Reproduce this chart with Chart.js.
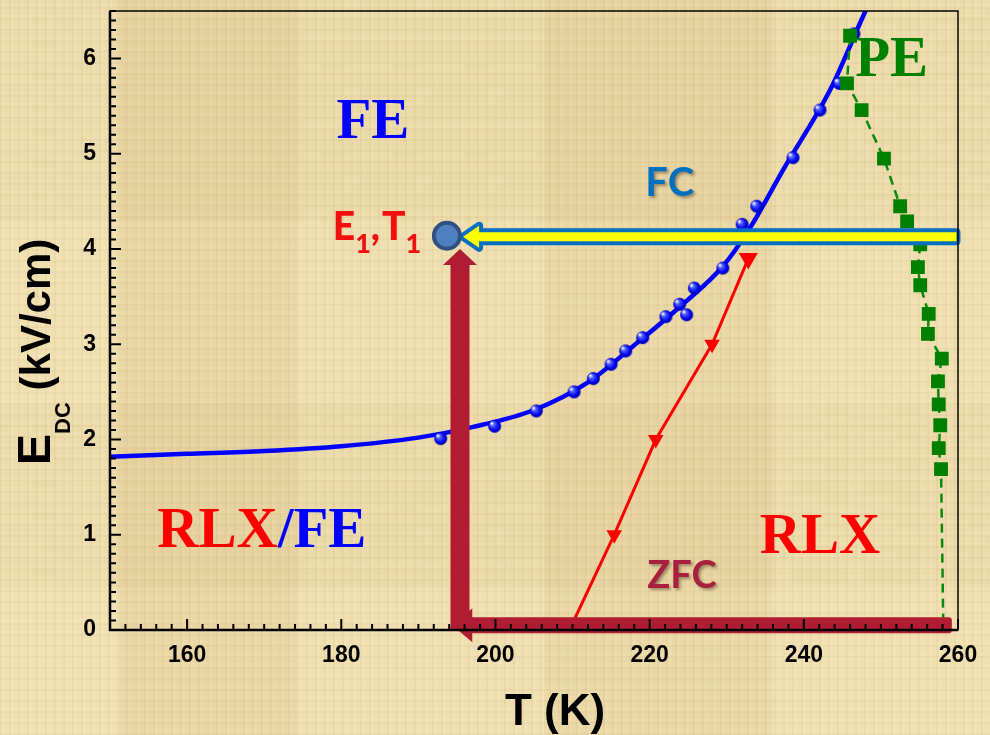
<!DOCTYPE html>
<html>
<head>
<meta charset="utf-8">
<script src="https://cdn.jsdelivr.net/npm/chart.js@4.4.1/dist/chart.umd.min.js"></script>
<style>
  html, body { margin: 0; padding: 0; }
  #wrap {
    width: 990px; height: 735px; position: relative;
    background-color: #ead7a6;
    background-image:
      repeating-linear-gradient(90deg, rgba(160,120,60,0.06) 0 2px, rgba(255,248,215,0.07) 2px 5px, transparent 5px 9px),
      repeating-linear-gradient(0deg, rgba(160,120,60,0.05) 0 2px, rgba(255,248,215,0.06) 2px 6px, transparent 6px 11px),
      linear-gradient(90deg, rgba(255,245,205,0.2) 0 12%, rgba(205,170,100,0.07) 12% 30%, rgba(255,245,205,0.15) 30% 55%, rgba(205,170,100,0.06) 55% 78%, rgba(255,245,205,0.18) 78% 100%),
      linear-gradient(0deg, rgba(255,245,205,0.12) 0 20%, rgba(205,170,100,0.06) 20% 45%, rgba(255,245,205,0.1) 45% 70%, rgba(205,170,100,0.06) 70% 100%);
  }
</style>
</head>
<body>
<div id="wrap"><canvas id="phaseChart" width="990" height="735"></canvas></div>
<script>
// measured FC points (blue spheres)
const fcT = [192.9, 199.9, 205.3, 210.2, 212.7, 215.0, 216.9, 219.1, 222.1, 223.9, 224.8, 225.8, 229.5, 232.0, 233.9, 238.6, 242.1, 244.6, 246.5];
const fcE = [2.01, 2.14, 2.30, 2.50, 2.64, 2.79, 2.93, 3.07, 3.29, 3.42, 3.31, 3.59, 3.80, 4.26, 4.45, 4.96, 5.46, 5.74, 6.26];

// fitted FC curve (blue line)
const fitT = [150, 160, 170, 180, 190, 197, 205, 212, 218, 224, 229.5, 233, 237.3, 243.4, 248, 249.5];
const fitE = [1.82, 1.85, 1.88, 1.93, 2.02, 2.13, 2.31, 2.60, 2.99, 3.40, 3.82, 4.22, 4.83, 5.67, 6.5, 6.75];

// ZFC line (red, down triangles)
const zfcT = [209.6, 215.4, 220.8, 228.1, 232.8];
const zfcE = [0, 1.0, 2.0, 3.0, 3.9];

// PE boundary (green dashed squares)
const peT = [246.0, 245.6, 247.5, 250.4, 252.5, 253.4, 255.1, 254.8, 255.1, 256.2, 256.1, 257.9, 257.4, 257.5, 257.7, 257.5, 257.8, 258.1];
const peE = [6.24, 5.74, 5.46, 4.95, 4.45, 4.29, 4.05, 3.81, 3.62, 3.32, 3.11, 2.85, 2.61, 2.37, 2.15, 1.91, 1.69, 0];

const xTicks = [160, 180, 200, 220, 240, 260];
const yTicks = [0, 1, 2, 3, 4, 5, 6];

// arrows / marker of the E1,T1 state
const e1t1 = [193.7, 4.14];
const fcArrow = [[259.8, 4.13], [195.8, 4.13]];
const zfcUpArrow = [[195.4, 0], [195.4, 4.0]];
const zfcLeftArrow = [[259.2, 0.05], [194.4, 0.05]];

const toXY = (t, e) => t.map((v, i) => ({x: v, y: e[i]}));

// glossy blue sphere for the points
function sphere(r) {
    const c = document.createElement('canvas');
    c.width = c.height = r * 2 + 2;
    const g = c.getContext('2d');
    const grad = g.createRadialGradient(r - r * 0.35, r - r * 0.35, 0.5, r + 1, r + 1, r);
    grad.addColorStop(0, '#ffffff');
    grad.addColorStop(0.3, '#4a5cff');
    grad.addColorStop(0.75, '#0000ee');
    grad.addColorStop(1, '#0000a0');
    g.fillStyle = grad;
    g.beginPath();
    g.arc(r + 1, r + 1, r, 0, Math.PI * 2);
    g.fill();
    return c;
}
const blueBall = sphere(6.5);

const decorPlugin = {
    id: 'decor',
    afterDatasetsDraw(chart) {
        const ctx = chart.ctx;
        const xs = chart.scales.x, ys = chart.scales.y;
        const px = v => xs.getPixelForValue(v);
        const py = v => ys.getPixelForValue(v);

        ctx.save();
        // ZFC arrows (dark red)
        ctx.fillStyle = '#b01c34';
        let ux = px(zfcUpArrow[0][0]), uy0 = py(zfcUpArrow[0][1]), uy1 = py(zfcUpArrow[1][1]);
        ctx.beginPath();
        ctx.moveTo(ux - 9.5, uy0);
        ctx.lineTo(ux - 9.5, uy1 + 16);
        ctx.lineTo(ux - 17, uy1 + 16);
        ctx.lineTo(ux, uy1);
        ctx.lineTo(ux + 17, uy1 + 16);
        ctx.lineTo(ux + 9.5, uy1 + 16);
        ctx.lineTo(ux + 9.5, uy0);
        ctx.closePath();
        ctx.fill();

        let ly = py(zfcLeftArrow[0][1]), lx0 = px(zfcLeftArrow[0][0]), lx1 = px(zfcLeftArrow[1][0]);
        ctx.beginPath();
        ctx.moveTo(lx0 - 3, ly - 8);
        ctx.quadraticCurveTo(lx0, ly - 8, lx0, ly - 5);
        ctx.lineTo(lx0, ly + 5);
        ctx.quadraticCurveTo(lx0, ly + 8, lx0 - 3, ly + 8);
        ctx.lineTo(lx1 + 20, ly + 8);
        ctx.lineTo(lx1 + 20, ly + 17);
        ctx.lineTo(lx1, ly);
        ctx.lineTo(lx1 + 20, ly - 17);
        ctx.lineTo(lx1 + 20, ly - 8);
        ctx.closePath();
        ctx.fill();

        // FC arrow (yellow with blue border)
        let fy = py(fcArrow[0][1]), fx0 = px(fcArrow[0][0]), fx1 = px(fcArrow[1][0]);
        ctx.beginPath();
        ctx.moveTo(fx0, fy - 4.5);
        ctx.lineTo(fx1 + 16, fy - 4.5);
        ctx.lineTo(fx1 + 16, fy - 11);
        ctx.lineTo(fx1, fy);
        ctx.lineTo(fx1 + 16, fy + 11);
        ctx.lineTo(fx1 + 16, fy + 4.5);
        ctx.lineTo(fx0, fy + 4.5);
        ctx.closePath();
        ctx.lineJoin = 'round';
        ctx.lineWidth = 8;
        ctx.strokeStyle = '#0a6fc0';
        ctx.stroke();
        ctx.fillStyle = '#ffff00';
        ctx.fill();

        // E1,T1 circle
        ctx.beginPath();
        ctx.arc(px(e1t1[0]), py(e1t1[1]), 13, 0, Math.PI * 2);
        ctx.fillStyle = '#4f7fbf';
        ctx.fill();
        ctx.lineWidth = 4;
        ctx.strokeStyle = '#2f5283';
        ctx.stroke();
        ctx.restore();

        // region labels
        ctx.save();
        ctx.textBaseline = 'alphabetic';
        ctx.textAlign = 'center';
        ctx.font = 'bold 57px "Liberation Serif", "Times New Roman", serif';
        ctx.fillStyle = '#0000ff';
        ctx.fillText('FE', px(184.1), py(5.17));
        ctx.fillStyle = '#008000';
        ctx.fillText('PE', px(251.4), py(5.82));
        ctx.fillStyle = '#ff0000';
        ctx.fillText('RLX', px(242.1), py(0.81));
        // RLX/FE in two colours
        const w1 = ctx.measureText('RLX').width, w2 = ctx.measureText('/FE').width;
        let sx = px(169.7) - (w1 + w2) / 2;
        ctx.textAlign = 'left';
        ctx.fillStyle = '#ff0000';
        ctx.fillText('RLX', sx, py(0.87));
        ctx.fillStyle = '#0000ff';
        ctx.fillText('/FE', sx + w1, py(0.87));

        // FC and ZFC with shadow
        ctx.textAlign = 'center';
        ctx.font = 'bold 40px Lato, "Open Sans", sans-serif';
        ctx.shadowColor = 'rgba(60,40,20,0.45)';
        ctx.shadowOffsetX = 2;
        ctx.shadowOffsetY = 2;
        ctx.shadowBlur = 3;
        ctx.fillStyle = '#0070c0';
        ctx.fillText('FC', px(222.6), py(4.56));
        ctx.font = 'bold 38px Lato, "Open Sans", sans-serif';
        ctx.fillStyle = '#a8203e';
        ctx.fillText('ZFC', px(224.2), py(0.44));
        ctx.shadowColor = 'transparent';

        // E1,T1 with subscripts
        ctx.textAlign = 'left';
        ctx.fillStyle = '#f01010';
        let ex = px(178.9), ey = py(4.10);
        const parts = [['E', 39, 0], ['1', 27, 13], [',', 39, 0], ['T', 39, 0], ['1', 27, 13]];
        parts.forEach(p => {
            ctx.font = '900 ' + p[1] + 'px Lato, "Open Sans", sans-serif';
            ctx.fillText(p[0], ex, ey + p[2]);
            ex += ctx.measureText(p[0]).width + (p[0] === ',' ? 2 : 0);
        });
        ctx.restore();
    },
    afterDraw(chart) {
        const ctx = chart.ctx;
        const xs = chart.scales.x, ys = chart.scales.y;
        const a = chart.chartArea;
        ctx.save();
        // frame
        ctx.strokeStyle = '#000';
        ctx.lineWidth = 1.5;
        ctx.strokeRect(a.left, a.top, a.right - a.left, a.bottom - a.top);
        ctx.lineWidth = 2.5;
        ctx.beginPath();
        ctx.moveTo(a.left, a.top);
        ctx.lineTo(a.left, a.bottom);
        ctx.lineTo(a.right, a.bottom);
        ctx.stroke();
        // inward ticks
        ctx.lineWidth = 2;
        ctx.beginPath();
        for (let t = 150; t <= 260.001; t += 2) {
            const x = xs.getPixelForValue(t);
            const len = xTicks.includes(Math.round(t)) ? 11 : 6;
            ctx.moveTo(x, a.bottom);
            ctx.lineTo(x, a.bottom - len);
        }
        for (let k = 0; k <= 65; k++) {
            const e = k / 10;
            const y = ys.getPixelForValue(e);
            const len = k % 10 === 0 ? 11 : 6;
            ctx.moveTo(a.left, y);
            ctx.lineTo(a.left + len, y);
        }
        ctx.stroke();

        // axis titles
        ctx.fillStyle = '#000';
        ctx.textBaseline = 'alphabetic';
        ctx.textAlign = 'center';
        ctx.font = 'bold 44px "Liberation Sans", Arial, sans-serif';
        ctx.fillText('T (K)', a.left + 445, 725);

        ctx.translate(50, 352);
        ctx.rotate(-Math.PI / 2);
        ctx.textAlign = 'left';
        const segs = [['E', 47, 0], ['DC', 22, 20], [' (kV/cm)', 42, 0]];
        let total = 0;
        segs.forEach(s => {
            ctx.font = 'bold ' + s[1] + 'px "Liberation Sans", Arial, sans-serif';
            total += ctx.measureText(s[0]).width;
        });
        let cx = -total / 2;
        segs.forEach(s => {
            ctx.font = 'bold ' + s[1] + 'px "Liberation Sans", Arial, sans-serif';
            ctx.fillText(s[0], cx, s[2]);
            cx += ctx.measureText(s[0]).width;
        });
        ctx.restore();
    }
};

const tickFont = {family: '"Liberation Sans", Arial, sans-serif', size: 23, weight: 'bold'};

const config = {
    type: 'scatter',
    data: {
        datasets: [
            {
                label: 'fit',
                data: toXY(fitT, fitE),
                showLine: true,
                borderColor: '#0000ff',
                borderWidth: 4.5,
                pointRadius: 0,
                cubicInterpolationMode: 'monotone',
                order: 3
            },
            {
                label: 'FC',
                data: toXY(fcT, fcE),
                showLine: false,
                pointStyle: blueBall,
                pointRadius: 6,
                order: 2
            },
            {
                label: 'ZFC',
                data: toXY(zfcT, zfcE),
                showLine: true,
                borderColor: '#ff0000',
                borderWidth: 3,
                backgroundColor: '#ff0000',
                pointStyle: 'triangle',
                rotation: 180,
                pointRadius: [0, 6, 6, 6, 8],
                order: 1
            },
            {
                label: 'PE',
                data: toXY(peT, peE),
                showLine: true,
                borderColor: '#0a8a0a',
                borderWidth: 2.5,
                borderDash: [9, 6],
                backgroundColor: '#008000',
                pointBorderColor: '#008000',
                pointStyle: 'rect',
                pointRadius: peE.map(v => v === 0 ? 0 : 8),
                order: 0
            }
        ]
    },
    options: {
        responsive: false,
        animation: false,
        layout: { padding: { top: 7, right: 32, left: 0, bottom: 0 } },
        plugins: {
            legend: { display: false },
            tooltip: { enabled: false }
        },
        scales: {
            x: {
                type: 'linear',
                min: 150,
                max: 260,
                grid: { display: false, drawTicks: false },
                border: { display: false },
                afterBuildTicks: s => { s.ticks = xTicks.map(v => ({value: v})); },
                afterFit: s => { s.height = 105; s.paddingLeft = 0; s.paddingRight = 0; },
                ticks: { color: '#000', font: tickFont, padding: 12, maxRotation: 0 }
            },
            y: {
                type: 'linear',
                min: 0,
                max: 6.5,
                grid: { display: false, drawTicks: false },
                border: { display: false },
                afterBuildTicks: s => { s.ticks = yTicks.map(v => ({value: v})); },
                afterFit: s => { s.width = 110; s.paddingTop = 0; s.paddingBottom = 0; },
                ticks: { color: '#000', font: tickFont, padding: 14 }
            }
        }
    },
    plugins: [decorPlugin]
};

const ctx = document.getElementById('phaseChart').getContext('2d');
const phaseChart = new Chart(ctx, config);
</script>
</body>
</html>
